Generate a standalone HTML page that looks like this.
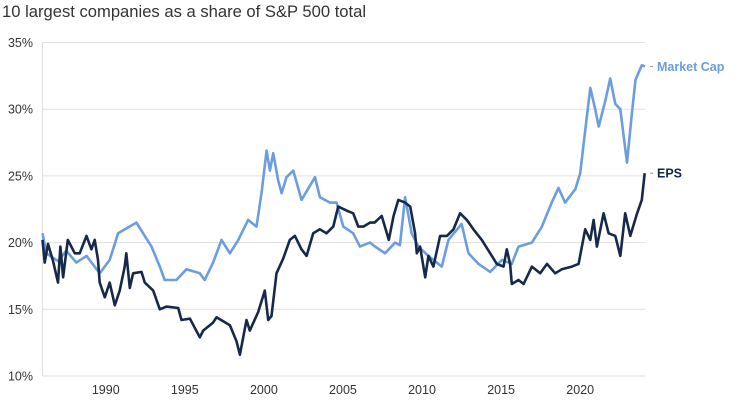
<!DOCTYPE html>
<html><head><meta charset="utf-8"><style>
body{margin:0;background:#fff;font-family:"Liberation Sans",sans-serif;}
svg text{font-family:"Liberation Sans",sans-serif;}
</style></head><body>
<svg id="chart" width="750" height="405" viewBox="0 0 750 405" xmlns="http://www.w3.org/2000/svg">
<text x="2" y="17" font-size="16.6" fill="#333">10 largest companies as a share of S&amp;P 500 total</text>
<g id="grid"></g><g id="series"></g>
</svg>
<script>
const yTicks=[10,15,20,25,30,35];
const yTickLabels=["10%","15%","20%","25%","30%","35%"];
const xTicks=[1990,1995,2000,2005,2010,2015,2020];
const mcYears=[1986.0,1986.24,1987.0,1987.5,1988.14,1988.78,1989.62,1990.25,1990.78,1991.94,1992.36,1992.89,1993.42,1993.73,1994.47,1995.1,1995.95,1996.26,1996.79,1997.32,1997.85,1998.38,1999.0,1999.53,1999.85,2000.17,2000.38,2000.59,2000.9,2001.12,2001.43,2001.86,2002.38,2003.23,2003.54,2004.18,2004.6,2005.02,2005.65,2006.07,2006.71,2007.03,2007.66,2008.3,2008.6,2008.93,2009.35,2009.77,2010.4,2011.25,2011.67,2012.5,2012.94,2013.57,2014.31,2015.05,2015.68,2016.1,2016.95,2017.58,2018.2,2018.63,2019.05,2019.69,2020.0,2020.32,2020.64,2020.95,2021.17,2021.6,2021.9,2022.22,2022.54,2022.96,2023.27,2023.5,2023.9,2024.1];
const mcValues=[20.7,19.2,18.6,19.4,18.5,19,17.7,18.7,20.7,21.5,20.7,19.7,18.2,17.2,17.2,18,17.7,17.2,18.5,20.2,19.2,20.2,21.7,21.2,23.7,26.9,25.4,26.7,24.7,23.7,24.9,25.4,23.2,24.9,23.4,23,23,21.2,20.7,19.7,20,19.7,19.2,20,19.8,23.4,20.7,19.7,19,18.2,20.2,21.4,19.2,18.4,17.8,18.7,18.4,19.7,20,21.2,23,24.1,23,24,25.2,28.4,31.6,30,28.7,30.7,32.3,30.4,30,26,29.7,32.2,33.3,33.2];
const epsYears=[1986.0,1986.14,1986.35,1986.67,1986.98,1987.13,1987.3,1987.6,1988.04,1988.35,1988.78,1989.09,1989.3,1989.51,1989.62,1989.94,1990.25,1990.57,1990.88,1991.2,1991.3,1991.52,1991.73,1992.26,1992.47,1993.0,1993.42,1993.84,1994.58,1994.79,1995.32,1995.95,1996.16,1996.79,1997.0,1997.85,1998.27,1998.48,1998.9,1999.11,1999.64,2000.06,2000.27,2000.48,2000.8,2001.22,2001.64,2001.96,2002.38,2002.7,2003.12,2003.54,2003.96,2004.39,2004.7,2005.23,2005.65,2005.97,2006.29,2006.71,2007.0,2007.45,2007.9,2008.2,2008.5,2008.93,2009.25,2009.56,2009.67,2009.88,2010.2,2010.4,2010.72,2011.14,2011.57,2011.99,2012.41,2012.83,2013.25,2013.78,2014.31,2014.73,2015.15,2015.36,2015.57,2015.68,2016.1,2016.42,2016.95,2017.47,2017.9,2018.42,2018.84,2019.48,2019.9,2020.32,2020.64,2020.85,2021.06,2021.48,2021.8,2022.22,2022.54,2022.85,2023.17,2023.6,2023.9,2024.08];
const epsValues=[20.2,18.5,19.9,18.6,17,19.7,17.4,20.2,19.2,19.2,20.5,19.5,20.2,18.7,17,15.9,17,15.3,16.4,18.2,19.2,16.6,17.7,17.8,17,16.4,15,15.2,15.1,14.2,14.3,12.9,13.4,14,14.4,13.8,12.6,11.6,14.2,13.4,14.8,16.4,14.2,14.5,17.7,18.8,20.2,20.5,19.5,19,20.7,21,20.7,21.2,22.7,22.4,22.2,21.2,21.2,21.5,21.5,22,20.2,22,23.2,23,22.7,20.7,19.2,19.7,17.4,19,18.2,20.5,20.5,21,22.2,21.7,21,20.2,19.2,18.4,18.2,19.5,18.4,16.9,17.2,16.9,18.2,17.7,18.4,17.7,18,18.2,18.4,21,20.2,21.7,19.7,22.2,20.7,20.5,19,22.2,20.5,22.2,23.2,25.2];
const NS="http://www.w3.org/2000/svg";
const x0=42.5,x1=645,yr0=1986,yr1=2024.1;
const xs=y=>x0+(y-yr0)/(yr1-yr0)*(x1-x0);
const ys=v=>376-(v-10)*13.34;
function mk(t,a,p){const e=document.createElementNS(NS,t);for(const k in a)e.setAttribute(k,a[k]);p.appendChild(e);return e;}
const grid=document.getElementById('grid'),ser=document.getElementById('series');
yTicks.forEach((t,i)=>{
 const l=mk('line',{x1:x0,x2:x1,y1:ys(t),y2:ys(t),stroke:'#e0e0e0','stroke-width':1},grid);
 
 
 const tx=mk('text',{x:33,y:ys(t)+4.5,'text-anchor':'end','font-size':12.5,fill:'#333'},grid);
 tx.textContent=yTickLabels[i];
 
 
});
const ax=mk('line',{x1:x0,x2:x0,y1:ys(35),y2:ys(10),stroke:'#e0e0e0','stroke-width':1},grid);


xTicks.forEach(t=>{
 const tx=mk('text',{x:xs(t),y:394,'text-anchor':'middle','font-size':12.5,fill:'#333'},grid);
 tx.textContent=t;
 
 
});
function line(xsArr,vs,color,name){
 const d=xsArr.map((y,i)=>(i?'L':'M')+xs(y).toFixed(1)+','+ys(vs[i]).toFixed(1)).join('');
 const p=mk('path',{d:d,fill:'none',stroke:color,'stroke-width':2.6,'stroke-linejoin':'round'},ser);
 
 
}
line(mcYears,mcValues,'#6b9ddf','market-cap-line');
line(epsYears,epsValues,'#17294a','eps-line');
function lab(v,txt,color,name,w){
 const y=ys(v);
 mk('line',{x1:650,x2:653,y1:y,y2:y,stroke:'#999','stroke-width':1},ser);
 const t=mk('text',{x:657,y:y+4.5,'font-size':12.5,'font-weight':w,fill:color},ser);
 t.textContent=txt;
 
 
}
lab(mcValues[mcValues.length-1],'Market Cap','#6b9ddf','legend-market-cap','bold');
lab(epsValues[epsValues.length-1],'EPS','#17294a','legend-eps','bold');
</script>
</body></html>
